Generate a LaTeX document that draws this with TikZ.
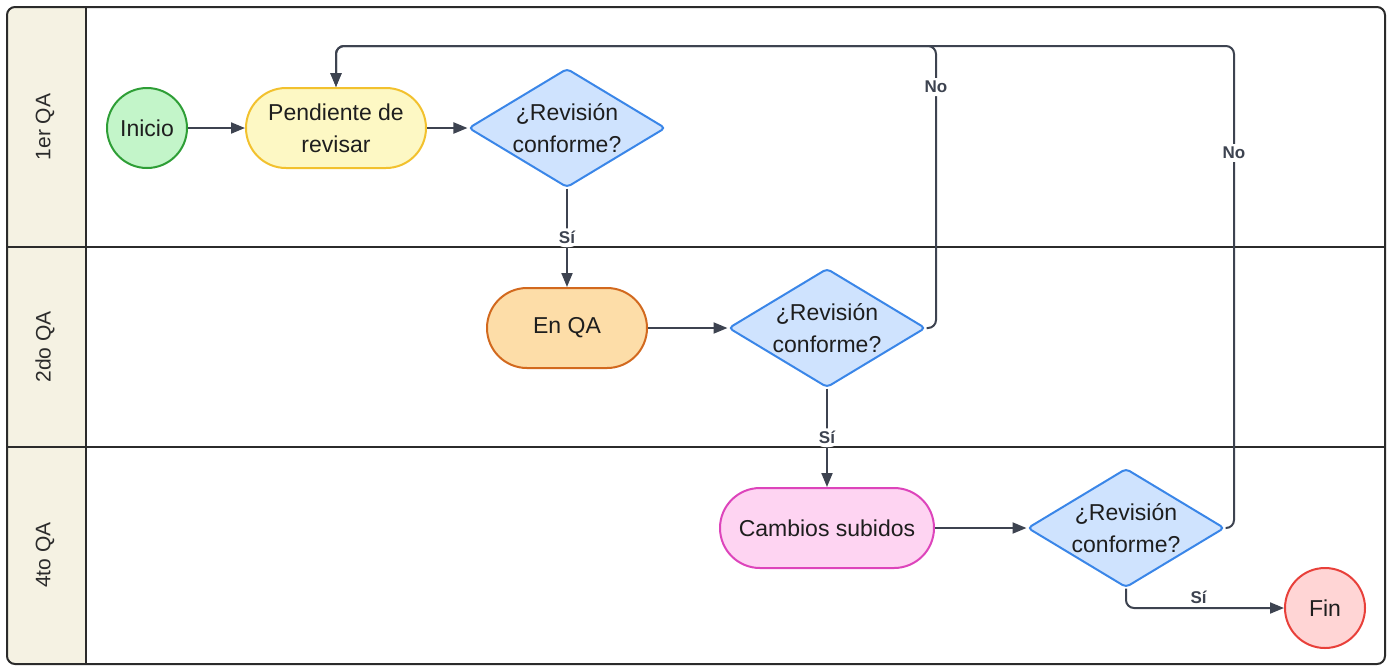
\documentclass[tikz,border=0pt]{standalone}
\usepackage{fontspec}
\setmainfont{Liberation Sans}
\usetikzlibrary{shapes.geometric,arrows.meta}

\definecolor{framecol}{HTML}{2B2B2B}
\definecolor{headfill}{HTML}{F5F2E3}
\definecolor{linecol}{HTML}{3D4350}
\definecolor{txtcol}{HTML}{1E1E1E}
\definecolor{startfill}{HTML}{C3F5C9}
\definecolor{startline}{HTML}{2E9E36}
\definecolor{pendfill}{HTML}{FDF8C4}
\definecolor{pendline}{HTML}{F2C12E}
\definecolor{askfill}{HTML}{CFE3FE}
\definecolor{askline}{HTML}{3A86E8}
\definecolor{qafill}{HTML}{FDDDA8}
\definecolor{qaline}{HTML}{D2691E}
\definecolor{upfill}{HTML}{FED4F2}
\definecolor{upline}{HTML}{DD44BB}
\definecolor{endfill}{HTML}{FFD5D5}
\definecolor{endline}{HTML}{E8403A}

\begin{document}
\begin{tikzpicture}[x=0.5pt,y=-0.5pt,
        nodetext/.style={text=txtcol,align=center,font=\fontsize{11.5}{16}\selectfont},
        state/.style={nodetext,draw,line width=1pt,rounded corners=20pt,minimum height=40pt},
        ends/.style={nodetext,circle,draw,line width=1pt,minimum size=40pt,inner sep=0pt},
        ask/.style={nodetext,diamond,draw=askline,fill=askfill,line width=1pt,rounded corners=2pt,
            aspect=1.66,inner sep=0pt,minimum width=98.5pt,minimum height=59.5pt},
        flow/.style={-{Triangle[length=7pt,width=5.5pt]},draw=linecol,line width=1pt,rounded corners=4pt},
        lbl/.style={text=linecol,font=\fontsize{8.5}{10}\selectfont\bfseries,inner sep=1.5pt},
        lanetext/.style={text=framecol,font=\fontsize{10.5}{12}\selectfont}]
    \useasboundingbox (0,0) rectangle (1393,666);

    \begin{scope}
        \clip[rounded corners=4pt] (7,7) rectangle (1385,664);
        \fill[headfill] (7,7) rectangle (86,664);
    \end{scope}
    \draw[framecol,line width=1pt] (7,247) -- (1385,247);
    \draw[framecol,line width=1pt] (7,447) -- (1385,447);
    \draw[framecol,line width=1pt] (86,7) -- (86,664);
    \draw[framecol,line width=1pt,rounded corners=4pt] (7,7) rectangle (1385,664);

    \node[lanetext,rotate=90] at (45,127) (lane1) {1er QA};
    \node[lanetext,rotate=90] at (45,347) (lane2) {2do QA};
    \node[lanetext,rotate=90] at (45,555) (lane4) {4to QA};

    \node[ends,draw=startline,fill=startfill] at (147,128) (inicio) {Inicio};
    \node[state,draw=pendline,fill=pendfill,minimum width=90pt] at (336,128) (pend) {Pendiente de\\revisar};
    \node[ask] at (567,128) (ask1) {¿Revisión\\conforme?};
    \node[state,draw=qaline,fill=qafill,minimum width=80pt] at (567,328) (enqa) {En QA};
    \node[ask] at (827,328) (ask2) {¿Revisión\\conforme?};
    \node[state,draw=upline,fill=upfill,minimum width=107pt] at (827,528) (subidos) {Cambios subidos};
    \node[ask] at (1126,528) (ask4) {¿Revisión\\conforme?};
    \node[ends,draw=endline,fill=endfill] at (1325,608) (fin) {Fin};

    \coordinate (back2) at (936,46);
    \coordinate (back4) at (1234,46);

    \draw[flow] (inicio) -- (pend);
    \draw[flow] (pend) -- (ask1);
    \draw[flow] (ask1) -- node[lbl,fill=white] {Sí} (enqa);
    \draw[flow] (enqa) -- (ask2);
    \draw[flow] (ask2.east) -| node[lbl,fill=white,pos=0.927] {No} (back2) -| (pend.north);
    \draw[flow] (ask2) -- node[lbl,fill=white] {Sí} (subidos);
    \draw[flow] (subidos) -- (ask4);
    \draw[flow] (ask4.east) -| node[lbl,fill=white,pos=0.889] {No} (back4) -| (pend.north);
    \draw[flow] (ask4.south) |- node[lbl,above,pos=0.73] {Sí} (fin.west);
\end{tikzpicture}
\end{document}
